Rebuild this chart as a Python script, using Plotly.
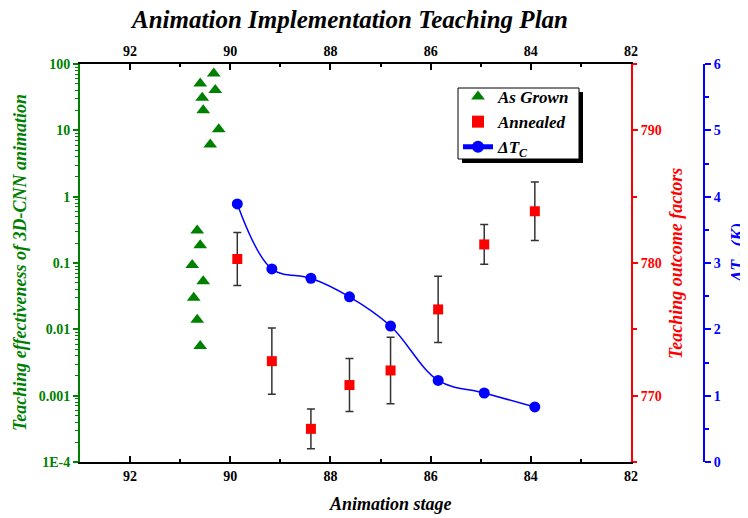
import plotly.graph_objects as go

# ---- data ----
stage_grown = [90.33, 90.60, 90.30, 90.56, 90.54, 90.23, 90.40,
               90.66, 90.60, 90.76, 90.54, 90.73, 90.66, 90.60]
eff_grown = [72, 51, 40.5, 31, 20, 10.4, 6.1,
             0.31, 0.185, 0.093, 0.053, 0.030, 0.014, 0.0056]

stage_ann = [89.86, 89.17, 88.39, 87.62, 86.80, 85.85, 84.93, 83.92]
factor_ann = [780.3, 772.6, 767.5, 770.8, 771.9, 776.5, 781.4, 783.9]
factor_err = [2.0, 2.5, 1.5, 2.0, 2.5, 2.5, 1.5, 2.2]

stage_dt = [89.86, 89.17, 88.39, 87.62, 86.80, 85.85, 84.93, 83.92]
dtc = [3.89, 2.91, 2.77, 2.49, 2.05, 1.23, 1.04, 0.83]

log_tickvals = [1e-4, 1e-3, 1e-2, 1e-1, 1, 10, 100]
log_ticktext = ["1E-4", "0.001", "0.01", "0.1", "1", "10", "100"]

FONT = "Liberation Serif"
OFF = 8  # page body margin of the html page
W, H = 748 - OFF, 518 - OFF
PLOT_L, PLOT_R, PLOT_T, PLOT_B = 80, 631, 64, 462  # page pixels
ML = PLOT_L - OFF
MT = PLOT_T - OFF
MB = H - (PLOT_B - OFF)
MR = 30
PW = W - ML - MR
PH = H - MT - MB
blue_x = 704


def px(xp):
    return (xp - OFF - ML) / PW


def py(yp):
    return (H - MB - (yp - OFF)) / PH


minor_log = [m * 10 ** e for e in range(-4, 2) for m in range(2, 10)]

fig = go.Figure()
fig.add_trace(go.Scatter(
    x=stage_grown, y=eff_grown, mode="markers", name="As Grown",
    marker=dict(symbol="triangle-up", size=12, color="#008000"),
    xaxis="x", yaxis="y"))
fig.add_trace(go.Scatter(
    x=stage_ann, y=factor_ann, mode="markers", name="Annealed",
    marker=dict(symbol="square", size=10, color="#ff0000"),
    error_y=dict(type="data", array=factor_err, color="#333333",
                 thickness=1.5, width=4),
    xaxis="x", yaxis="y2"))
fig.add_trace(go.Scatter(
    x=stage_dt, y=dtc, mode="lines+markers", name="<i>ΔT<sub>C</sub></i>",
    line=dict(shape="spline", smoothing=1.0, color="#0000ff", width=1.5),
    marker=dict(symbol="circle", size=11, color="#0000ff"),
    xaxis="x", yaxis="y3"))
fig.add_trace(go.Scatter(
    x=[None], y=[None], xaxis="x2", yaxis="y", showlegend=False,
    hoverinfo="skip"))

tickfont_black = dict(family=FONT, size=14, color="black", weight="bold")
xdomain = [0, px(PLOT_R)]

common_x = dict(
    range=[93, 82], tick0=82, dtick=2, ticks="inside", ticklen=6,
    tickwidth=1.5, tickcolor="black", showline=True, linecolor="black",
    linewidth=2, showgrid=False, zeroline=False, tickfont=tickfont_black,
    minor=dict(dtick=1, ticks="inside", ticklen=3, tickwidth=1.5,
               tickcolor="black"),
    domain=xdomain, automargin=False)

fig.update_layout(
    width=W, height=H,
    margin=dict(l=ML, r=MR, t=MT, b=MB),
    paper_bgcolor="white", plot_bgcolor="white",
    showlegend=True,
    title=dict(text="Animation Implementation Teaching Plan",
               font=dict(family=FONT, size=25, color="black",
                         weight="bold", style="italic"),
               x=(350 - OFF) / W, xref="container", xanchor="center",
               y=1 - (19 - OFF) / H, yref="container", yanchor="middle",
               automargin=False),
    xaxis=dict(**common_x, anchor="y", side="bottom"),
    xaxis2=dict(**common_x, anchor="y", side="top", overlaying="x"),
    yaxis=dict(
        type="log", range=[-4, 2], tickmode="array",
        tickvals=log_tickvals, ticktext=log_ticktext,
        ticks="outside", ticklen=5, tickwidth=1.5, tickcolor="#008000",
        showline=True, linecolor="#008000", linewidth=2,
        showgrid=False, zeroline=False, automargin=False,
        tickfont=dict(family=FONT, size=14, color="#008000", weight="bold"),
        minor=dict(tickmode="array", tickvals=minor_log, ticks="outside",
                   ticklen=3, tickwidth=1, tickcolor="#008000"),
        anchor="x", side="left"),
    yaxis2=dict(
        range=[765, 795], tickmode="array", tickvals=[770, 780, 790],
        ticks="outside", ticklen=5, tickwidth=1.5, tickcolor="#ff0000",
        showline=True, linecolor="#ff0000", linewidth=2,
        showgrid=False, zeroline=False, automargin=False,
        tickfont=dict(family=FONT, size=14, color="#ff0000", weight="bold"),
        minor=dict(dtick=5, ticks="outside", ticklen=4, tickwidth=1.5,
                   tickcolor="#ff0000"),
        overlaying="y", side="right", anchor="x"),
    yaxis3=dict(
        range=[0, 6], dtick=1, tick0=0,
        ticks="outside", ticklen=6, tickwidth=1.5, tickcolor="#0000ff",
        showline=True, linecolor="#0000ff", linewidth=2,
        showgrid=False, zeroline=False, automargin=False,
        tickfont=dict(family=FONT, size=14, color="#0000ff", weight="bold"),
        minor=dict(dtick=0.5, ticks="outside", ticklen=4, tickwidth=1.5,
                   tickcolor="#0000ff"),
        overlaying="y", side="right", anchor="free", position=px(blue_x)),
    legend=dict(x=px(458), y=py(79), xanchor="left", yanchor="top",
                bgcolor="rgba(0,0,0,0)", borderwidth=0,
                font=dict(family=FONT, size=17, color="black",
                          weight="bold", style="italic"),
                tracegroupgap=0, itemsizing="constant"),
    shapes=[
        dict(type="rect", xref="paper", yref="paper",
             x0=px(462), x1=px(583), y0=py(163), y1=py(92),
             fillcolor="black", line=dict(width=0), layer="below"),
        dict(type="rect", xref="paper", yref="paper",
             x0=px(458), x1=px(579), y0=py(159), y1=py(88),
             fillcolor="white", line=dict(width=1, color="black"),
             layer="below"),
    ],
    annotations=[
        dict(text="Animation stage", xref="paper", yref="paper",
             x=px(390), y=py(504), xanchor="center", yanchor="middle",
             showarrow=False,
             font=dict(family=FONT, size=18, color="black",
                       weight="bold", style="italic")),
        dict(text="Teaching effectiveness of 3D-CNN animation",
             xref="paper", yref="paper", x=px(20), y=py(263),
             xanchor="center", yanchor="middle", textangle=-90,
             showarrow=False,
             font=dict(family=FONT, size=18, color="#008000",
                       weight="bold", style="italic")),
        dict(text="Teaching outcome factors",
             xref="paper", yref="paper", x=px(676), y=py(264),
             xanchor="center", yanchor="middle", textangle=-90,
             showarrow=False,
             font=dict(family=FONT, size=18, color="#ff0000",
                       weight="bold", style="italic")),
        dict(text="ΔT<sub>C</sub> (K)",
             xref="paper", yref="paper", x=px(739), y=py(253),
             xanchor="center", yanchor="middle", textangle=-90,
             showarrow=False,
             font=dict(family=FONT, size=18, color="#0000ff",
                       weight="bold", style="italic")),
    ],
)

fig.write_html("out.html")
